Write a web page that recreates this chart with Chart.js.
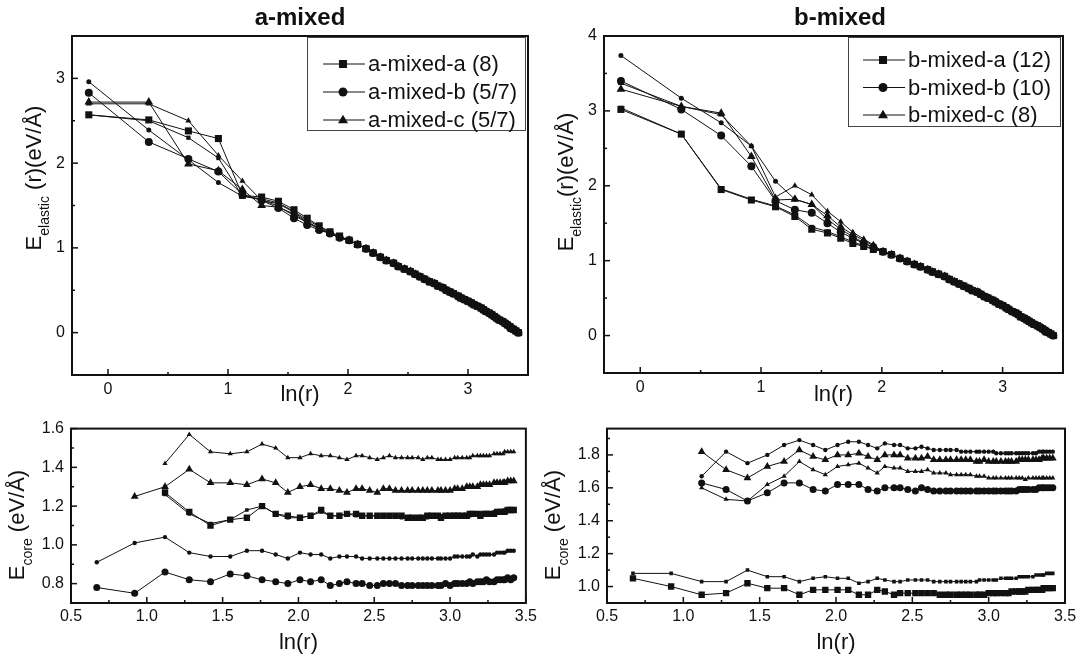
<!DOCTYPE html>
<html>
<head>
<meta charset="utf-8">
<script src="https://cdn.jsdelivr.net/npm/chart.js@4.4.0/dist/chart.umd.min.js"></script>
<style>
  body { margin: 0; background: #fff; }
  #wrap { position: relative; width: 1082px; height: 664px; overflow: hidden; background: #fff; }
  canvas { position: absolute; }
</style>
</head>
<body>
<div id="wrap">
  <canvas id="elasticA" width="541" height="412" style="left:0;top:0"></canvas>
  <canvas id="elasticB" width="541" height="412" style="left:541px;top:0"></canvas>
  <canvas id="coreA" width="541" height="252" style="left:0;top:412px"></canvas>
  <canvas id="coreB" width="541" height="252" style="left:541px;top:412px"></canvas>
</div>
<script>
// x positions, ln(r), shared by all panels
const lnR = [-0.16, 0.34, 0.67, 0.92, 1.12, 1.28, 1.42, 1.55, 1.66, 1.76,
  1.85, 1.93, 2.01, 2.08, 2.15, 2.21, 2.27, 2.32, 2.38, 2.42,
  2.47, 2.52, 2.56, 2.60, 2.64, 2.68, 2.72, 2.75, 2.79, 2.82,
  2.85, 2.88, 2.92, 2.94, 2.97, 3.00, 3.03, 3.05, 3.08, 3.11,
  3.13, 3.15, 3.18, 3.20, 3.22, 3.24, 3.26, 3.29, 3.31, 3.33,
  3.35, 3.36, 3.38, 3.40, 3.42];

// tick values
const elasticXTicks = [0, 1, 2, 3];
const elasticAYTicks = [0, 1, 2, 3];
const elasticBYTicks = [0, 1, 2, 3, 4];
const coreXTicks = [0.5, 1.0, 1.5, 2.0, 2.5, 3.0, 3.5];
const coreAYTicks = [0.8, 1.0, 1.2, 1.4, 1.6];
const coreBYTicks = [1.0, 1.2, 1.4, 1.6, 1.8];

const legendA = ["a-mixed-a (8)", "a-mixed-b (5/7)", "a-mixed-c (5/7)"];
const legendB = ["b-mixed-a (12)", "b-mixed-b (10)", "b-mixed-c (8)"];

// ---- E_elastic, a-mixed: first 12 points per curve, then the common tail
const elA_sqBig   = [2.57, 2.51, 2.38, 2.29, 1.62, 1.60, 1.55, 1.45, 1.35, 1.26, 1.19, 1.14];
const elA_sqSmall = [2.57, 2.50, 2.30, 2.06, 1.61, 1.58, 1.53, 1.43, 1.33, 1.25, 1.18, 1.13];
const elA_ciBig   = [2.83, 2.25, 2.05, 1.90, 1.63, 1.56, 1.47, 1.35, 1.27, 1.21, 1.17, 1.12];
const elA_ciSmall = [2.96, 2.39, 2.04, 1.77, 1.61, 1.57, 1.49, 1.38, 1.30, 1.23, 1.17, 1.12];
const elA_trBig   = [2.72, 2.72, 1.99, 1.91, 1.69, 1.50, 1.48, 1.40, 1.30, 1.22, 1.17, 1.12];
const elA_trSmall = [2.70, 2.70, 2.50, 2.09, 1.79, 1.56, 1.52, 1.42, 1.31, 1.23, 1.17, 1.12];
const elA_tail = [1.09, 1.04, 0.99, 0.94, 0.89, 0.85, 0.82, 0.78, 0.75, 0.72,
  0.69, 0.66, 0.63, 0.60, 0.58, 0.55, 0.53, 0.50, 0.48, 0.46,
  0.43, 0.41, 0.39, 0.37, 0.35, 0.33, 0.31, 0.29, 0.27, 0.25,
  0.23, 0.21, 0.19, 0.17, 0.15, 0.13, 0.11, 0.09, 0.07, 0.05,
  0.04, 0.02, 0.00];

// ---- E_elastic, b-mixed
const elB_sqBig   = [3.02, 2.69, 1.95, 1.81, 1.72, 1.59, 1.42, 1.37, 1.30, 1.23, 1.19, 1.15];
const elB_sqSmall = [3.04, 2.69, 1.96, 1.82, 1.73, 1.61, 1.45, 1.39, 1.32, 1.25, 1.20, 1.16];
const elB_ciBig   = [3.40, 3.02, 2.67, 2.26, 1.80, 1.68, 1.64, 1.50, 1.38, 1.30, 1.23, 1.18];
const elB_ciSmall = [3.74, 3.17, 2.84, 2.53, 2.06, 1.82, 1.75, 1.55, 1.42, 1.32, 1.24, 1.18];
const elB_trBig   = [3.29, 3.06, 2.97, 2.39, 1.81, 1.82, 1.75, 1.60, 1.45, 1.35, 1.27, 1.20];
const elB_trSmall = [3.37, 3.06, 2.95, 2.53, 1.85, 2.00, 1.88, 1.66, 1.52, 1.38, 1.29, 1.21];
const elB_tail = [1.12, 1.08, 1.03, 0.99, 0.95, 0.92, 0.88, 0.85, 0.82, 0.79,
  0.75, 0.72, 0.69, 0.66, 0.63, 0.60, 0.58, 0.55, 0.52, 0.50,
  0.47, 0.45, 0.42, 0.40, 0.37, 0.35, 0.32, 0.30, 0.28, 0.25,
  0.23, 0.21, 0.19, 0.17, 0.15, 0.13, 0.11, 0.09, 0.07, 0.05,
  0.04, 0.02, 0.00];

// ---- E_core, a-mixed
const coA_trSmall = [null, null, null, null, 1.42, 1.57, 1.48, 1.47, 1.48, 1.52,
  1.50, 1.45, 1.45, 1.47, 1.46, 1.46, 1.45, 1.44, 1.46, 1.46,
  1.45, 1.44, 1.45, 1.46, 1.45, 1.45, 1.45, 1.45, 1.45, 1.44,
  1.45, 1.45, 1.44, 1.44, 1.44, 1.44, 1.45, 1.45, 1.45, 1.45,
  1.45, 1.46, 1.46, 1.46, 1.46, 1.46, 1.46, 1.47, 1.47, 1.47,
  1.47, 1.48, 1.48, 1.48, 1.48];
const coA_trBig = [null, null, null, 1.25, 1.30, 1.39, 1.32, 1.32, 1.31, 1.34,
  1.32, 1.27, 1.30, 1.31, 1.29, 1.29, 1.28, 1.27, 1.29, 1.29,
  1.28, 1.27, 1.29, 1.29, 1.28, 1.28, 1.28, 1.28, 1.28, 1.28,
  1.28, 1.28, 1.28, 1.28, 1.28, 1.28, 1.29, 1.29, 1.29, 1.30,
  1.30, 1.30, 1.30, 1.31, 1.31, 1.31, 1.31, 1.32, 1.32, 1.32,
  1.32, 1.32, 1.33, 1.33, 1.33];
const coA_sqBig = [null, null, null, null, 1.27, 1.17, 1.10, 1.13, 1.14, 1.20,
  1.16, 1.15, 1.14, 1.15, 1.18, 1.15, 1.15, 1.16, 1.16, 1.15,
  1.15, 1.15, 1.15, 1.15, 1.15, 1.15, 1.14, 1.14, 1.14, 1.14,
  1.15, 1.15, 1.15, 1.14, 1.15, 1.15, 1.15, 1.15, 1.15, 1.15,
  1.16, 1.16, 1.16, 1.15, 1.16, 1.16, 1.16, 1.16, 1.17, 1.17,
  1.17, 1.17, 1.18, 1.18, 1.18];
const coA_sqSmall = [null, null, null, null, 1.26, 1.16, 1.11, 1.13, 1.18, 1.20,
  1.16, 1.14, 1.14, 1.15, 1.17, 1.15, 1.15, 1.16, 1.15, 1.15,
  1.15, 1.15, 1.15, 1.15, 1.15, 1.14, 1.14, 1.14, 1.14, 1.14,
  1.14, 1.15, 1.15, 1.15, 1.15, 1.15, 1.15, 1.15, 1.15, 1.15,
  1.15, 1.16, 1.16, 1.16, 1.16, 1.16, 1.16, 1.17, 1.17, 1.17,
  1.17, 1.18, 1.18, 1.18, 1.18];
const coA_ciSmall = [null, null, 0.91, 1.01, 1.04, 0.96, 0.94, 0.94, 0.97, 0.97,
  0.95, 0.93, 0.96, 0.95, 0.95, 0.93, 0.94, 0.94, 0.94, 0.93,
  0.93, 0.93, 0.93, 0.93, 0.93, 0.93, 0.93, 0.93, 0.93, 0.93,
  0.93, 0.93, 0.93, 0.93, 0.93, 0.93, 0.94, 0.94, 0.94, 0.94,
  0.94, 0.95, 0.94, 0.95, 0.95, 0.95, 0.95, 0.95, 0.96, 0.96,
  0.96, 0.96, 0.97, 0.97, 0.97];
const coA_ciBig = [null, null, 0.78, 0.75, 0.86, 0.82, 0.81, 0.85, 0.84, 0.82,
  0.81, 0.80, 0.82, 0.81, 0.82, 0.79, 0.80, 0.81, 0.80, 0.80,
  0.79, 0.79, 0.80, 0.80, 0.80, 0.79, 0.79, 0.79, 0.79, 0.79,
  0.79, 0.79, 0.79, 0.79, 0.80, 0.79, 0.80, 0.80, 0.80, 0.80,
  0.81, 0.80, 0.81, 0.81, 0.81, 0.82, 0.81, 0.81, 0.82, 0.82,
  0.82, 0.82, 0.83, 0.82, 0.83];

// ---- E_core, b-mixed
const coB_ciSmall = [null, null, null, null, 1.67, 1.82, 1.75, 1.80, 1.86, 1.89,
  1.86, 1.83, 1.86, 1.88, 1.88, 1.86, 1.84, 1.87, 1.86, 1.86,
  1.84, 1.84, 1.85, 1.84, 1.83, 1.83, 1.83, 1.83, 1.83, 1.82,
  1.82, 1.82, 1.82, 1.82, 1.82, 1.82, 1.82, 1.81, 1.81, 1.81,
  1.81, 1.81, 1.81, 1.81, 1.81, 1.81, 1.81, 1.81, 1.81, 1.82,
  1.82, 1.82, 1.82, 1.82, 1.82];
const coB_trBig = [null, null, null, null, 1.82, 1.71, 1.66, 1.73, 1.76, 1.83,
  1.79, 1.77, 1.80, 1.80, 1.81, 1.79, 1.77, 1.80, 1.80, 1.80,
  1.78, 1.78, 1.78, 1.79, 1.77, 1.77, 1.77, 1.77, 1.77, 1.77,
  1.77, 1.77, 1.76, 1.76, 1.77, 1.76, 1.76, 1.76, 1.76, 1.76,
  1.76, 1.76, 1.76, 1.77, 1.77, 1.77, 1.77, 1.77, 1.77, 1.77,
  1.78, 1.78, 1.78, 1.78, 1.78];
const coB_trSmall = [null, null, null, null, 1.60, 1.53, 1.52, 1.62, 1.67, 1.76,
  1.71, 1.68, 1.73, 1.74, 1.75, 1.72, 1.69, 1.73, 1.72, 1.72,
  1.70, 1.70, 1.70, 1.71, 1.69, 1.69, 1.69, 1.68, 1.68, 1.68,
  1.68, 1.68, 1.67, 1.67, 1.67, 1.66, 1.66, 1.66, 1.66, 1.66,
  1.66, 1.66, 1.66, 1.66, 1.66, 1.65, 1.66, 1.66, 1.66, 1.66,
  1.66, 1.66, 1.66, 1.66, 1.66];
const coB_ciBig = [null, null, null, null, 1.63, 1.59, 1.52, 1.57, 1.63, 1.63,
  1.59, 1.58, 1.62, 1.62, 1.62, 1.59, 1.58, 1.60, 1.60, 1.60,
  1.59, 1.58, 1.60, 1.59, 1.58, 1.58, 1.58, 1.58, 1.58, 1.58,
  1.58, 1.58, 1.58, 1.58, 1.58, 1.58, 1.58, 1.58, 1.58, 1.58,
  1.58, 1.58, 1.58, 1.59, 1.59, 1.59, 1.59, 1.59, 1.59, 1.60,
  1.60, 1.60, 1.60, 1.60, 1.60];
const coB_sqSmall = [null, null, 1.08, 1.08, 1.03, 1.03, 1.10, 1.06, 1.06, 1.03,
  1.05, 1.06, 1.05, 1.05, 1.02, 1.03, 1.05, 1.04, 1.03, 1.03,
  1.04, 1.04, 1.04, 1.04, 1.03, 1.03, 1.03, 1.03, 1.03, 1.03,
  1.03, 1.03, 1.03, 1.04, 1.04, 1.04, 1.04, 1.04, 1.05, 1.05,
  1.05, 1.05, 1.05, 1.06, 1.06, 1.06, 1.06, 1.06, 1.07, 1.07,
  1.07, 1.07, 1.08, 1.08, 1.08];
const coB_sqBig = [null, null, 1.05, 1.00, 0.95, 0.96, 1.02, 0.99, 0.99, 0.95,
  0.98, 0.98, 0.98, 0.98, 0.95, 0.95, 0.98, 0.97, 0.95, 0.96,
  0.96, 0.96, 0.96, 0.96, 0.96, 0.95, 0.95, 0.95, 0.95, 0.95,
  0.95, 0.95, 0.95, 0.95, 0.95, 0.96, 0.96, 0.96, 0.96, 0.96,
  0.96, 0.97, 0.97, 0.97, 0.97, 0.97, 0.98, 0.98, 0.98, 0.98,
  0.98, 0.99, 0.99, 0.99, 0.99];

Chart.defaults.font.family = '"Liberation Sans", Arial, Helvetica, sans-serif';
Chart.defaults.color = "#111";

const FONT = '"Liberation Sans", Arial, Helvetica, sans-serif';

// extra drawing per canvas: frame, inward ticks, title, y title, legend
const decorByChart = {};

function drawMarker(ctx, style, x, y, size) {
  ctx.beginPath();
  if (style === "rect") {
    ctx.rect(x - size / 2, y - size / 2, size, size);
  } else if (style === "circle") {
    ctx.arc(x, y, size / 2, 0, Math.PI * 2);
  } else {
    const h = size * 0.866;
    ctx.moveTo(x, y - h * 0.62);
    ctx.lineTo(x + size / 2, y + h * 0.38);
    ctx.lineTo(x - size / 2, y + h * 0.38);
    ctx.closePath();
  }
  ctx.fill();
}

function drawInTicks(ctx, scale, area, horizontal) {
  const vals = scale.ticks.map(t => t.value);
  const step = vals[1] - vals[0];
  const marks = vals.map(v => [v, 6]);
  for (let v = vals[0] - step / 2; v <= scale.max + 1e-9; v += step) {
    if (v >= scale.min - 1e-9) marks.push([v, 3]);
  }
  ctx.lineWidth = 1.5;
  marks.forEach(([v, len]) => {
    const p = scale.getPixelForValue(v);
    ctx.beginPath();
    if (horizontal) {
      ctx.moveTo(p, area.bottom);
      ctx.lineTo(p, area.bottom - len);
    } else {
      ctx.moveTo(area.left, p);
      ctx.lineTo(area.left + len, p);
    }
    ctx.stroke();
  });
}

function drawYTitle(ctx, parts, cx, cy) {
  ctx.save();
  let total = 0;
  const widths = parts.map(p => {
    ctx.font = p.size + "px " + FONT;
    const w = ctx.measureText(p.text).width;
    total += w;
    return w;
  });
  ctx.translate(cx, cy);
  ctx.rotate(-Math.PI / 2);
  ctx.textAlign = "left";
  ctx.textBaseline = "alphabetic";
  ctx.fillStyle = "#111";
  let x = -total / 2;
  parts.forEach((p, i) => {
    ctx.font = p.size + "px " + FONT;
    ctx.fillText(p.text, x, p.dy);
    x += widths[i];
  });
  ctx.restore();
}

const decor = {
  id: "decor",
  afterDatasetsDraw(chart) {
    const d = decorByChart[chart.canvas.id];
    const ctx = chart.ctx;
    const area = chart.chartArea;
    ctx.save();
    ctx.strokeStyle = "#111";
    drawInTicks(ctx, chart.scales.x, area, true);
    drawInTicks(ctx, chart.scales.y, area, false);
    ctx.lineWidth = 2;
    ctx.strokeRect(area.left, area.top, area.right - area.left, area.bottom - area.top);

    const lg = d.legend;
    if (lg) {
      const left = area.right - 3 - lg.width;
      const top = area.top + 1;
      ctx.fillStyle = "#fff";
      ctx.fillRect(left, top, lg.width, lg.height);
      ctx.strokeStyle = "#444";
      ctx.lineWidth = 1;
      ctx.strokeRect(left + 0.5, top + 0.5, lg.width, lg.height);
      ctx.font = "22px " + FONT;
      ctx.textBaseline = "middle";
      ctx.textAlign = "left";
      lg.labels.forEach((text, i) => {
        const y = top + lg.rowTop + i * lg.rowGap;
        ctx.strokeStyle = "#111";
        ctx.beginPath();
        ctx.moveTo(left + lg.lineFrom, y);
        ctx.lineTo(left + lg.lineTo, y);
        ctx.stroke();
        ctx.fillStyle = "#111";
        drawMarker(ctx, ["rect", "circle", "triangle"][i], left + lg.marker, y, [8, 9, 10][i]);
        ctx.fillText(text, left + lg.textAt, y + 1);
      });
    }
    ctx.restore();
  },
  afterDraw(chart) {
    const d = decorByChart[chart.canvas.id];
    const ctx = chart.ctx;
    ctx.save();
    if (d.title) {
      ctx.font = "bold 24px " + FONT;
      ctx.fillStyle = "#111";
      ctx.textAlign = "center";
      ctx.textBaseline = "alphabetic";
      ctx.fillText(d.title, d.titleX, 25);
    }
    drawYTitle(ctx, d.yTitle, d.yTitleX, d.yTitleY);
    ctx.restore();
  }
};

function ds(values, style, r) {
  return {
    data: lnR.map((x, i) => ({ x: x, y: values[i] }))
      .filter(p => p.y !== null && p.y !== undefined),
    showLine: true,
    borderColor: "#111",
    borderWidth: 1,
    backgroundColor: "#111",
    pointStyle: style,
    pointRadius: r,
    pointHoverRadius: r,
    pointBorderWidth: 0
  };
}

function makeChart(id, p) {
  decorByChart[id] = p.decor;
  return new Chart(document.getElementById(id), {
    type: "scatter",
    data: { datasets: p.datasets },
    options: {
      responsive: false,
      animation: false,
      devicePixelRatio: 1,
      layout: { padding: p.padding },
      plugins: {
        legend: { display: false },
        tooltip: { enabled: false }
      },
      scales: {
        x: {
          type: "linear",
          min: p.x.min,
          max: p.x.max,
          grid: { display: false, drawTicks: false },
          border: { display: false },
          afterBuildTicks: s => { s.ticks = p.x.ticks.map(v => ({ value: v })); },
          ticks: {
            autoSkip: false,
            maxRotation: 0,
            padding: p.x.pad,
            font: { size: 16 },
            color: "#111",
            callback: p.x.fmt
          },
          title: {
            display: true,
            text: "ln(r)",
            font: { size: 22 },
            color: "#111",
            padding: { top: 0, bottom: p.x.titlePad }
          },
          afterFit: s => { s.height = p.x.height; }
        },
        y: {
          type: "linear",
          min: p.y.min,
          max: p.y.max,
          grid: { display: false, drawTicks: false },
          border: { display: false },
          afterBuildTicks: s => { s.ticks = p.y.ticks.map(v => ({ value: v })); },
          ticks: {
            autoSkip: false,
            padding: 7,
            font: { size: 16 },
            color: "#111",
            callback: p.y.fmt
          },
          afterFit: s => { s.width = p.y.width; }
        }
      }
    },
    plugins: [decor]
  });
}

const intFmt = v => String(v);
const oneFmt = v => v.toFixed(1);

makeChart("elasticA", {
  padding: { top: 36, right: 13, left: 0, bottom: 0 },
  x: { min: -0.3, max: 3.5, ticks: elasticXTicks, pad: 5, fmt: intFmt, titlePad: 4, height: 37 },
  y: { min: -0.5, max: 3.5, ticks: elasticAYTicks, fmt: intFmt, width: 72 },
  datasets: [
    ds(elA_sqBig.concat(elA_tail), "rect", 5),
    ds(elA_sqSmall.concat(elA_tail), "rect", 3),
    ds(elA_ciBig.concat(elA_tail), "circle", 4),
    ds(elA_ciSmall.concat(elA_tail), "circle", 2.5),
    ds(elA_trBig.concat(elA_tail), "triangle", 5),
    ds(elA_trSmall.concat(elA_tail), "triangle", 3.5)
  ],
  decor: {
    title: "a-mixed", titleX: 300,
    yTitle: [{ text: "E", size: 22, dy: 0 }, { text: "elastic", size: 14, dy: 8 }, { text: " (r)(eV/Å)", size: 22, dy: 0 }],
    yTitleX: 41, yTitleY: 178,
    legend: { labels: legendA, width: 218, height: 93, rowTop: 27, rowGap: 28, lineFrom: 16, lineTo: 58, marker: 36, textAt: 61 }
  }
});

makeChart("elasticB", {
  padding: { top: 36, right: 19, left: 0, bottom: 0 },
  x: { min: -0.3, max: 3.5, ticks: elasticXTicks, pad: 5, fmt: intFmt, titlePad: 4, height: 39 },
  y: { min: -0.5, max: 4, ticks: elasticBYTicks, fmt: intFmt, width: 63 },
  datasets: [
    ds(elB_sqBig.concat(elB_tail), "rect", 5),
    ds(elB_sqSmall.concat(elB_tail), "rect", 3),
    ds(elB_ciBig.concat(elB_tail), "circle", 4),
    ds(elB_ciSmall.concat(elB_tail), "circle", 2.5),
    ds(elB_trBig.concat(elB_tail), "triangle", 5),
    ds(elB_trSmall.concat(elB_tail), "triangle", 3.5)
  ],
  decor: {
    title: "b-mixed", titleX: 299,
    yTitle: [{ text: "E", size: 22, dy: 0 }, { text: "elastic", size: 14, dy: 8 }, { text: "(r)(eV/Å)", size: 22, dy: 0 }],
    yTitleX: 32, yTitleY: 182,
    legend: { labels: legendB, width: 212, height: 89, rowTop: 23, rowGap: 27.5, lineFrom: 15, lineTo: 57, marker: 35, textAt: 60 }
  }
});

makeChart("coreA", {
  padding: { top: 4, right: 12, left: 0, bottom: 0 },
  x: { min: 0.5, max: 3.5, ticks: coreXTicks, pad: 4, fmt: oneFmt, titlePad: 8, height: 61 },
  y: { min: 0.7, max: 1.6, ticks: coreAYTicks, fmt: oneFmt, width: 71 },
  datasets: [
    ds(coA_trSmall, "triangle", 3),
    ds(coA_trBig, "triangle", 4.5),
    ds(coA_sqBig, "rect", 4.5),
    ds(coA_sqSmall, "rect", 2.5),
    ds(coA_ciSmall, "circle", 2.2),
    ds(coA_ciBig, "circle", 3.5)
  ],
  decor: {
    yTitle: [{ text: "E", size: 22, dy: 0 }, { text: "core", size: 14, dy: 8 }, { text: " (eV/Å)", size: 22, dy: 0 }],
    yTitleX: 24, yTitleY: 113
  }
});

makeChart("coreB", {
  padding: { top: 3, right: 17, left: 0, bottom: 0 },
  x: { min: 0.5, max: 3.5, ticks: coreXTicks, pad: 4, fmt: oneFmt, titlePad: 8, height: 61 },
  y: { min: 0.9, max: 1.96, ticks: coreBYTicks, fmt: oneFmt, width: 66 },
  datasets: [
    ds(coB_ciSmall, "circle", 2.2),
    ds(coB_trBig, "triangle", 4.5),
    ds(coB_trSmall, "triangle", 3),
    ds(coB_ciBig, "circle", 3.5),
    ds(coB_sqSmall, "rect", 2.5),
    ds(coB_sqBig, "rect", 4.5)
  ],
  decor: {
    yTitle: [{ text: "E", size: 22, dy: 0 }, { text: "core", size: 14, dy: 8 }, { text: " (eV/Å)", size: 22, dy: 0 }],
    yTitleX: 19, yTitleY: 113
  }
});
</script>
</body>
</html>
